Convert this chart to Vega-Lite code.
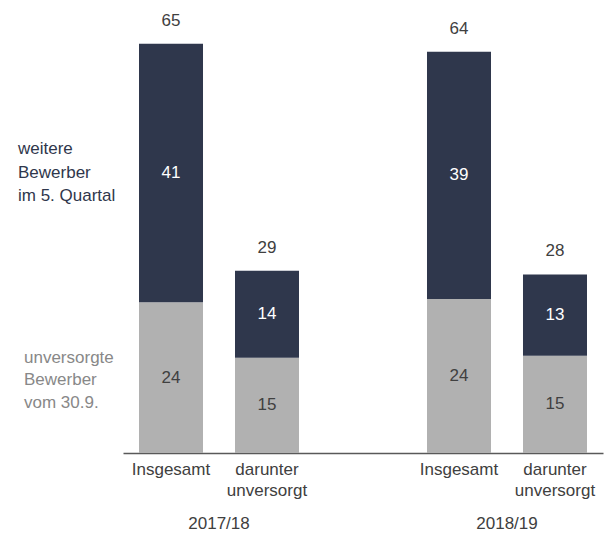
{
  "$schema": "https://vega.github.io/schema/vega-lite/v6.json",
  "width": 480,
  "height": 410,
  "autosize": "none",
  "padding": {"left": 123, "top": 43, "right": 5, "bottom": 80},
  "background": "white",
  "config": {"view": {"stroke": null}, "font": "Liberation Sans"},
  "data": {
    "values": [
      {"bar": "2017/18|Insgesamt", "jahr": "2017/18", "series": "unversorgte\nBewerber\nvom 30.9.", "wert": 23.9},
      {"bar": "2017/18|Insgesamt", "jahr": "2017/18", "series": "weitere\nBewerber\nim 5. Quartal", "wert": 41.0},
      {"bar": "2017/18|darunter|unversorgt", "jahr": "2017/18", "series": "unversorgte\nBewerber\nvom 30.9.", "wert": 15.1},
      {"bar": "2017/18|darunter|unversorgt", "jahr": "2017/18", "series": "weitere\nBewerber\nim 5. Quartal", "wert": 13.8},
      {"bar": "2018/19|Insgesamt", "jahr": "2018/19", "series": "unversorgte\nBewerber\nvom 30.9.", "wert": 24.4},
      {"bar": "2018/19|Insgesamt", "jahr": "2018/19", "series": "weitere\nBewerber\nim 5. Quartal", "wert": 39.2},
      {"bar": "2018/19|darunter|unversorgt", "jahr": "2018/19", "series": "unversorgte\nBewerber\nvom 30.9.", "wert": 15.4},
      {"bar": "2018/19|darunter|unversorgt", "jahr": "2018/19", "series": "weitere\nBewerber\nim 5. Quartal", "wert": 12.9}
    ]
  },
  "transform": [
    {"stack": "wert", "groupby": ["bar"], "sort": [{"field": "series", "order": "ascending"}], "as": ["y0", "y1"]},
    {"calculate": "(datum.y0 + datum.y1) / 2", "as": "ymid"}
  ],
  "encoding": {
    "x": {
      "field": "bar",
      "type": "nominal",
      "sort": null,
      "scale": {
        "domain": ["2017/18|Insgesamt", "2017/18|darunter|unversorgt", "gap", "2018/19|Insgesamt", "2018/19|darunter|unversorgt"],
        "paddingInner": 0.3333,
        "paddingOuter": 0.1667
      },
      "axis": {
        "title": null,
        "ticks": false,
        "domainColor": "#595959",
        "domainWidth": 1.5,
        "labelFont": "Liberation Sans",
        "labelFontSize": 17,
        "labelColor": "#404040",
        "labelPadding": 8,
        "labelLineHeight": 21,
        "labelAngle": 0,
        "labelOverlap": false,
        "labelLimit": 0,
        "labelExpr": "slice(split(datum.value, '|'), 1)"
      }
    }
  },
  "layer": [
    {
      "mark": {"type": "bar"},
      "encoding": {
        "y": {"field": "y0", "type": "quantitative", "scale": {"domain": [0, 65], "nice": false, "zero": true}, "axis": null},
        "y2": {"field": "y1"},
        "color": {
          "field": "series",
          "type": "nominal",
          "scale": {"domain": ["unversorgte\nBewerber\nvom 30.9.", "weitere\nBewerber\nim 5. Quartal"], "range": ["#b1b1b1", "#2f374c"]},
          "legend": null
        }
      }
    },
    {
      "mark": {"type": "text", "fontSize": 17, "baseline": "middle", "align": "center"},
      "encoding": {
        "y": {"field": "ymid", "type": "quantitative"},
        "text": {"field": "wert", "type": "quantitative", "format": ".0f"},
        "color": {"condition": {"test": "test(/^weitere/, datum.series)", "value": "#ffffff"}, "value": "#404040"}
      }
    },
    {
      "transform": [{"aggregate": [{"op": "sum", "field": "wert", "as": "gesamt"}], "groupby": ["bar"]}],
      "mark": {"type": "text", "fontSize": 17, "baseline": "alphabetic", "align": "center", "dy": -18, "color": "#404040"},
      "encoding": {
        "y": {"field": "gesamt", "type": "quantitative"},
        "text": {"field": "gesamt", "type": "quantitative", "format": ".0f"}
      }
    },
    {
      "transform": [{"filter": "datum.bar === '2017/18|Insgesamt' && test(/^weitere/, datum.series)"}],
      "mark": {"type": "text", "fontSize": 17, "baseline": "middle", "align": "left", "dx": -153, "dy": -23.5, "lineBreak": "\n", "lineHeight": 23.5, "color": "#2f374c"},
      "encoding": {
        "y": {"field": "ymid", "type": "quantitative"},
        "text": {"field": "series", "type": "nominal"}
      }
    },
    {
      "transform": [{"filter": "datum.bar === '2017/18|Insgesamt' && test(/^unversorgte/, datum.series)"}],
      "mark": {"type": "text", "fontSize": 17, "baseline": "middle", "align": "left", "dx": -147, "dy": -20, "lineBreak": "\n", "lineHeight": 22.5, "color": "#888888"},
      "encoding": {
        "y": {"field": "ymid", "type": "quantitative"},
        "text": {"field": "series", "type": "nominal"}
      }
    },
    {
      "transform": [{"filter": "test(/Insgesamt/, datum.bar) && test(/^weitere/, datum.series)"}],
      "mark": {"type": "text", "fontSize": 17, "baseline": "alphabetic", "align": "center", "dx": 48, "dy": 76, "color": "#404040"},
      "encoding": {
        "y": {"datum": 0},
        "text": {"field": "jahr", "type": "nominal"}
      }
    }
  ]
}
